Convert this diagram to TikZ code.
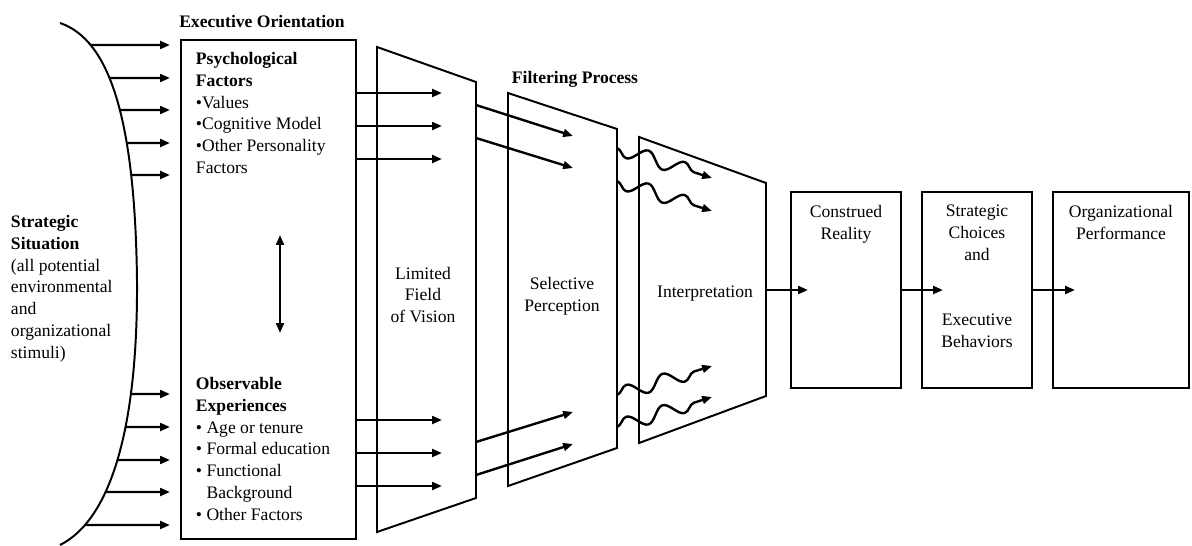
\documentclass[tikz,border=0pt]{standalone}
\usepackage{fontspec}
\setmainfont{Liberation Serif}
\usetikzlibrary{arrows.meta,positioning,decorations.pathmorphing,intersections}

\begin{document}
\begin{tikzpicture}[x=0.025cm, y=-0.025cm, line width=1.4pt,
  every node/.style={font=\fontsize{12.5}{15.6}\selectfont, inner sep=0pt},
  head/.style={font=\fontsize{12.5}{15.6}\selectfont\bfseries},
  arr/.style={-{Triangle[length=7pt,width=5.5pt]}, line width=1.7pt},
  wave/.style={arr, decorate, decoration={snake, amplitude=5pt, segment length=27pt, post length=9pt}},
  wavemirror/.style={wave, decoration={mirror}}]
  \useasboundingbox (0,0) rectangle (1192,546);

  % Strategic situation
  \draw[name path=curve] (60,23) .. controls (110,40) and (135,120) .. (137,280)
    .. controls (138,430) and (110,520) .. (60,545);
  \node[anchor=north west, align=left] (sit) at (10,214)
    {\textbf{Strategic}\\ \textbf{Situation}\\ (all potential\\ environmental\\ and\\ organizational\\ stimuli)};
  \foreach \y in {45,78,110,143,175,394,427,460,492,525} {
    \path[name path=hl] (0,\y) -- (180,\y);
    \draw[arr, name intersections={of=curve and hl}] (intersection-1) -- (170,\y);
  }

  % Executive orientation
  \node[head] (eotitle) at (262,22) {Executive Orientation};
  \draw (181,40) rectangle (356,539);
  \node[anchor=north west, align=left] (psy) at (195,51)
    {\textbf{Psychological}\\ \textbf{Factors}\\ •Values\\ •Cognitive Model\\ •Other Personality\\ Factors};
  \node[anchor=north west, align=left] (obs) at (195,376)
    {\textbf{Observable}\\ \textbf{Experiences}\\ • Age or tenure\\ • Formal education\\ • Functional\\ \phantom{• }Background\\ • Other Factors};
  \draw[{Triangle[length=7pt,width=5.5pt]}-{Triangle[length=7pt,width=5.5pt]}, line width=1.7pt] (280,235) -- (280,333);

  % Filtering process
  \node[head] (fptitle) at (575,79) {Filtering Process};
  \draw (377,47) -- (476,82) -- (476,498) -- (377,532) -- cycle;
  \node[align=center] (lfv) at (423,295) {Limited\\ Field\\ of Vision};
  \foreach \y in {93,126,159,420,453,486}
    \draw[arr] (356,\y) -- (442,\y);

  \draw (508,93) -- (617,129) -- (617,448) -- (508,486) -- cycle;
  \node[align=center] (sp) at (562,296) {Selective\\ Perception};
  \foreach \a/\b in {105/136,138/168,442/412,475/444}
    \draw[arr] (476,\a) -- (573,\b);

  \draw (639,137) -- (766,183) -- (766,396) -- (639,443) -- cycle;
  \node (interp) at (705,294) {Interpretation};
  \foreach \a/\b in {148/178,181/211}
    \draw[wavemirror] (617,\a) -- (712,\b);
  \foreach \a/\b in {395/366,427/397}
    \draw[wave] (617,\a) -- (712,\b);

  % Outcomes
  \draw (791,192) rectangle (901,388);
  \draw (922,192) rectangle (1032,388);
  \draw (1053,192) rectangle (1189,388);
  \node[anchor=north, align=center] (cr) at (846,204) {Construed\\ Reality};
  \node[anchor=north, align=center] (sc) at (977,204) {Strategic\\ Choices\\ and};
  \node[anchor=north, align=center] (eb) at (977,313) {Executive\\ Behaviors};
  \node[anchor=north, align=center] (op) at (1121,204) {Organizational\\ Performance};
  \draw[arr] (766,290) -- (808,290);
  \draw[arr] (901,290) -- (943,290);
  \draw[arr] (1032,290) -- (1075,290);
\end{tikzpicture}
\end{document}
